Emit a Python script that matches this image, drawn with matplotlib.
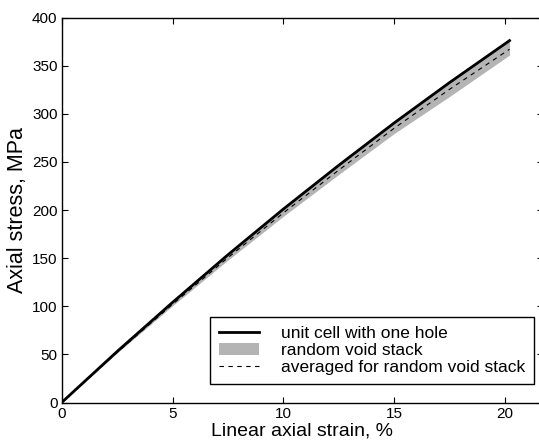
import matplotlib
matplotlib.use('Agg')
from matplotlib import pyplot as plt

# data
strain = [0, 2.5, 5, 7.5, 10, 12.5, 15, 17.5, 20.2]
unit_cell = [0, 53, 104, 153.5, 201, 246.5, 290.5, 332.5, 376]
stack_hi = [0, 53, 104.5, 154, 202, 247.5, 292, 334, 377.5]
stack_lo = [0, 51.5, 100.5, 148, 193.5, 237, 279.5, 318, 361]
stack_avg = [0, 52, 102, 150.5, 197, 241.5, 285, 325.5, 367]

plt.rcParams['font.family'] = ['Liberation Sans', 'DejaVu Sans']

W, H = 539, 441
fig = plt.figure(figsize=(W / 100, H / 100), dpi=100)
x0, y0, y1 = 61.7, 402.5, 17.5
pxPerUnit = 22.17
xmax = 21.7
ax = fig.add_axes([x0 / W, (H - y0) / H, xmax * pxPerUnit / W, (y0 - y1) / H])

ax.fill_between(strain, stack_lo, stack_hi, color='#b4b4b4', linewidth=0, label='random void stack')
ax.plot(strain, unit_cell, color='k', linewidth=2.0, label='unit cell with one hole')
ax.plot(strain, stack_avg, color='k', linewidth=0.8, linestyle=(0, (4, 4)), label='averaged for random void stack')

ax.set_xlim(0, xmax)
ax.set_ylim(0, 400)
ax.set_xticks([0, 5, 10, 15, 20])
ax.set_yticks(range(0, 401, 50))
ax.tick_params(direction='in', top=True, right=True, length=4, width=0.8, labelsize=11, pad=3)
for s in ax.spines.values():
    s.set_linewidth(1.0)

ax.set_xlabel('Linear axial strain, %', fontsize=14, labelpad=1.5)
ax.set_ylabel('Axial stress, MPa', fontsize=15.5, labelpad=3)

h, l = ax.get_legend_handles_labels()
order = [1, 0, 2]
leg = fig.legend([h[i] for i in order], [l[i] for i in order], loc='lower right',
                 bbox_to_anchor=(534 / W, 1 - 384 / H), bbox_transform=fig.transFigure,
                 borderaxespad=0, fontsize=12.5, fancybox=False, framealpha=1,
                 edgecolor='k', labelspacing=0.12, handlelength=2.3, handletextpad=1.3,
                 borderpad=0.5)
leg.get_frame().set_linewidth(1.0)

plt.savefig('out.png', dpi=100)
